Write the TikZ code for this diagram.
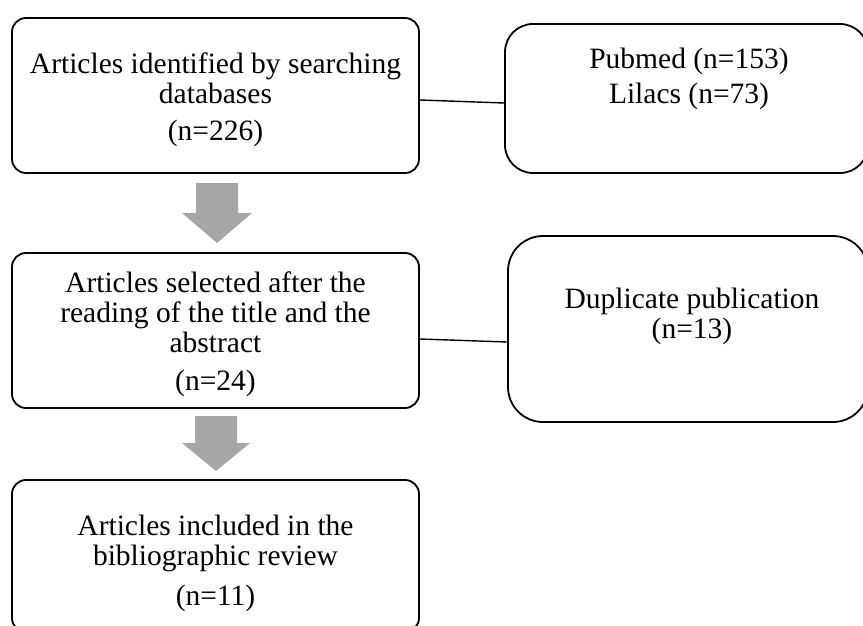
\documentclass[tikz,border=0pt]{standalone}
\usepackage{fontspec}
\setmainfont{Liberation Serif}
\begin{document}
\begin{tikzpicture}[x=1pt,y=-1pt,
  box/.style={draw=black, line width=1.8pt, rectangle, inner sep=0pt, fill=white},
  txt/.style={align=center, anchor=base, inner sep=0pt, text=black,
    font=\fontsize{29.5}{30}\selectfont},
  link/.style={draw=black, line width=1.4pt},
  blockarrow/.style={fill=arrowgray, draw=none}]
\definecolor{arrowgray}{HTML}{A5A6A6}
\useasboundingbox (0,0) rectangle (863,626);
% boxes
\node[box, rounded corners=14pt, minimum width=407pt, minimum height=155pt] (b1) at (215.5,95.5) {};
\node[box, rounded corners=28pt, minimum width=363pt, minimum height=149pt] (b2) at (686.5,98.5) {};
\node[box, rounded corners=14pt, minimum width=407pt, minimum height=155pt] (b3) at (215.5,330.5) {};
\node[box, rounded corners=35pt, minimum width=360pt, minimum height=186pt] (b4) at (688,329) {};
\node[box, rounded corners=14pt, minimum width=407pt, minimum height=152pt] (b5) at (215.5,556) {};
% texts (anchored at the baseline of their last line)
\node[txt] (t1) at (215.5,140) {Articles identified by searching\\databases\\[7pt](n=226)};
\node[txt] (t2) at (689,103) {Pubmed (n=153)\\[5pt]Lilacs (n=73)};
\node[txt] (t3) at (215.5,390) {Articles selected after the\\reading of the title and the\\abstract\\[8pt](n=24)};
\node[txt] (t4) at (692,338) {Duplicate publication\\(n=13)};
\node[txt] (t5) at (215.5,605) {Articles included in the\\bibliographic review\\[10pt](n=11)};
% connectors
\draw[link] ([yshift=-4.5pt]b1.east) -- ([yshift=-4.5pt]b2.west);
\draw[link] ([yshift=-8.5pt]b3.east) -- ([yshift=-13pt]b4.west);
% block arrows
\path[blockarrow] (196,183) -- (238,183) -- (238,213) -- (252,213) -- (217,243) -- (182,213) -- (196,213) -- cycle;
\path[blockarrow] (195,416) -- (237,416) -- (237,443) -- (250,443) -- (216,471) -- (182,443) -- (195,443) -- cycle;
\end{tikzpicture}
\end{document}
